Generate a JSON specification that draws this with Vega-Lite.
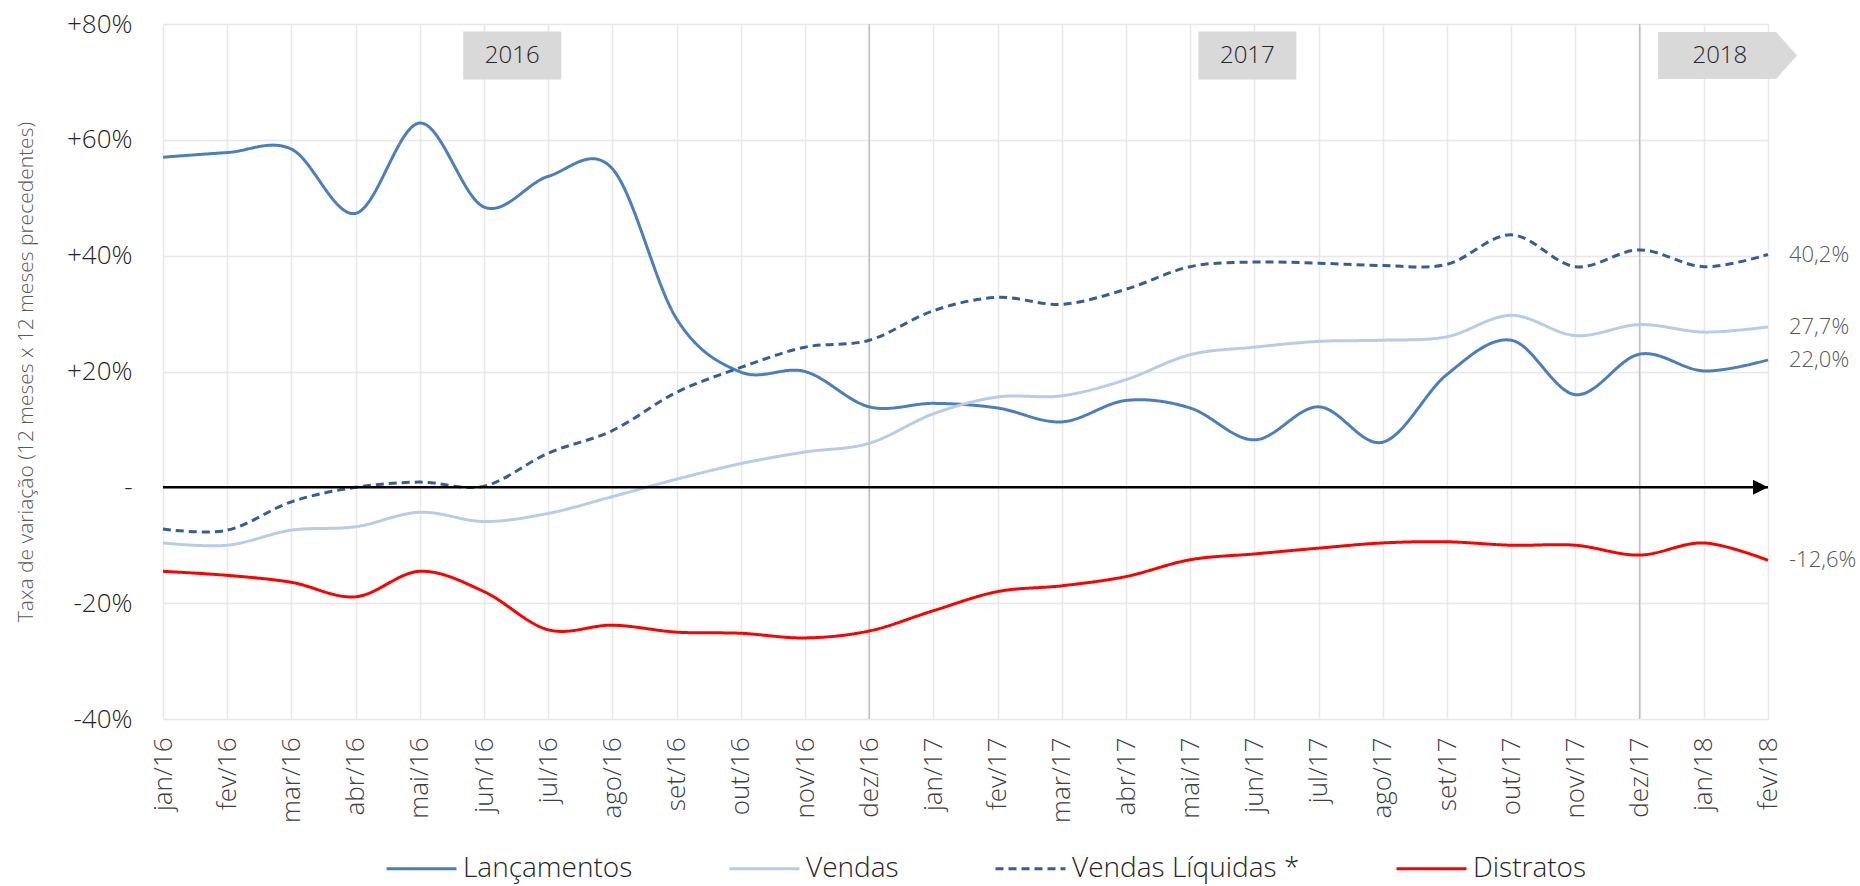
{
  "$schema": "https://vega.github.io/schema/vega-lite/v6.json",
  "width": 1605,
  "height": 695,
  "autosize": {"type": "none"},
  "padding": {"left": 163, "top": 24, "right": 92, "bottom": 167},
  "background": "white",
  "config": {"font": "Open Sans", "view": {"stroke": null}, "text": {"fontWeight": 300}},
  "datasets": {
    "mensal": [
      {"i": 0, "mes": "jan/16", "Lançamentos": 57.0, "Vendas": -9.6, "Vendas Líquidas *": -7.2, "Distratos": -14.5},
      {"i": 1, "mes": "fev/16", "Lançamentos": 57.8, "Vendas": -10.0, "Vendas Líquidas *": -7.4, "Distratos": -15.2},
      {"i": 2, "mes": "mar/16", "Lançamentos": 58.4, "Vendas": -7.4, "Vendas Líquidas *": -2.5, "Distratos": -16.4},
      {"i": 3, "mes": "abr/16", "Lançamentos": 47.3, "Vendas": -6.8, "Vendas Líquidas *": 0.0, "Distratos": -18.9},
      {"i": 4, "mes": "mai/16", "Lançamentos": 62.9, "Vendas": -4.3, "Vendas Líquidas *": 0.9, "Distratos": -14.5},
      {"i": 5, "mes": "jun/16", "Lançamentos": 48.4, "Vendas": -5.9, "Vendas Líquidas *": 0.2, "Distratos": -18.0},
      {"i": 6, "mes": "jul/16", "Lançamentos": 53.7, "Vendas": -4.5, "Vendas Líquidas *": 5.9, "Distratos": -24.6},
      {"i": 7, "mes": "ago/16", "Lançamentos": 55.0, "Vendas": -1.6, "Vendas Líquidas *": 9.8, "Distratos": -23.8},
      {"i": 8, "mes": "set/16", "Lançamentos": 29.1, "Vendas": 1.4, "Vendas Líquidas *": 16.4, "Distratos": -25.0},
      {"i": 9, "mes": "out/16", "Lançamentos": 19.9, "Vendas": 4.1, "Vendas Líquidas *": 20.7, "Distratos": -25.2},
      {"i": 10, "mes": "nov/16", "Lançamentos": 20.0, "Vendas": 6.1, "Vendas Líquidas *": 24.2, "Distratos": -26.0},
      {"i": 11, "mes": "dez/16", "Lançamentos": 13.9, "Vendas": 7.6, "Vendas Líquidas *": 25.4, "Distratos": -24.8},
      {"i": 12, "mes": "jan/17", "Lançamentos": 14.5, "Vendas": 12.7, "Vendas Líquidas *": 30.5, "Distratos": -21.3},
      {"i": 13, "mes": "fev/17", "Lançamentos": 13.7, "Vendas": 15.6, "Vendas Líquidas *": 32.8, "Distratos": -18.0},
      {"i": 14, "mes": "mar/17", "Lançamentos": 11.3, "Vendas": 15.8, "Vendas Líquidas *": 31.6, "Distratos": -17.0},
      {"i": 15, "mes": "abr/17", "Lançamentos": 15.0, "Vendas": 18.6, "Vendas Líquidas *": 34.2, "Distratos": -15.4},
      {"i": 16, "mes": "mai/17", "Lançamentos": 13.7, "Vendas": 22.9, "Vendas Líquidas *": 38.1, "Distratos": -12.5},
      {"i": 17, "mes": "jun/17", "Lançamentos": 8.2, "Vendas": 24.2, "Vendas Líquidas *": 38.9, "Distratos": -11.5},
      {"i": 18, "mes": "jul/17", "Lançamentos": 13.9, "Vendas": 25.2, "Vendas Líquidas *": 38.7, "Distratos": -10.5},
      {"i": 19, "mes": "ago/17", "Lançamentos": 7.8, "Vendas": 25.4, "Vendas Líquidas *": 38.3, "Distratos": -9.6},
      {"i": 20, "mes": "set/17", "Lançamentos": 19.5, "Vendas": 26.0, "Vendas Líquidas *": 38.5, "Distratos": -9.4},
      {"i": 21, "mes": "out/17", "Lançamentos": 25.4, "Vendas": 29.7, "Vendas Líquidas *": 43.6, "Distratos": -10.0},
      {"i": 22, "mes": "nov/17", "Lançamentos": 16.0, "Vendas": 26.2, "Vendas Líquidas *": 38.1, "Distratos": -10.0},
      {"i": 23, "mes": "dez/17", "Lançamentos": 23.0, "Vendas": 28.1, "Vendas Líquidas *": 41.0, "Distratos": -11.7},
      {"i": 24, "mes": "jan/18", "Lançamentos": 20.1, "Vendas": 26.8, "Vendas Líquidas *": 38.1, "Distratos": -9.6},
      {"i": 25, "mes": "fev/18", "Lançamentos": 22.0, "Vendas": 27.7, "Vendas Líquidas *": 40.2, "Distratos": -12.6}
    ]
  },
  "layer": [
    {
      "data": {"values": [{"i": 11}, {"i": 23}]},
      "mark": {"type": "rule", "color": "#bfbfbf", "strokeWidth": 1.5},
      "encoding": {
        "x": {"field": "i", "type": "quantitative", "scale": {"domain": [0, 25], "nice": false, "zero": false},
          "axis": {
            "values": [0,1,2,3,4,5,6,7,8,9,10,11,12,13,14,15,16,17,18,19,20,21,22,23,24,25],
            "grid": true, "gridColor": "#e8e8e8", "gridWidth": 1.5, "domain": false, "ticks": false,
            "labelAngle": -90, "labelFontSize": 26, "labelFontWeight": 300, "labelColor": "#404040", "labelPadding": 18,
            "labelExpr": "['jan/16','fev/16','mar/16','abr/16','mai/16','jun/16','jul/16','ago/16','set/16','out/16','nov/16','dez/16','jan/17','fev/17','mar/17','abr/17','mai/17','jun/17','jul/17','ago/17','set/17','out/17','nov/17','dez/17','jan/18','fev/18'][datum.value]",
            "title": null
          }
        }
      }
    },
    {
      "data": {"name": "mensal"},
      "transform": [{"fold": ["Lançamentos", "Vendas", "Vendas Líquidas *", "Distratos"], "as": ["serie", "valor"]}],
      "mark": {"type": "line", "interpolate": "cardinal", "strokeWidth": 3},
      "encoding": {
        "x": {"field": "i", "type": "quantitative"},
        "y": {"field": "valor", "type": "quantitative", "scale": {"domain": [-40, 80], "nice": false},
          "axis": {
            "values": [-40, -20, 0, 20, 40, 60, 80],
            "grid": true, "gridColor": "#e8e8e8", "gridWidth": 1.5, "domain": false, "ticks": false,
            "labelFontSize": 26, "labelFontWeight": 300, "labelColor": "#262626", "labelPadding": 31,
            "labelExpr": "datum.value > 0 ? '+' + datum.value + '%' : (datum.value == 0 ? '-' : datum.value + '%')",
            "title": "Taxa de variação (12 meses x 12 meses precedentes)",
            "titleFontSize": 21, "titleFontWeight": 300, "titleColor": "#595959", "titlePadding": 30
          }
        },
        "color": {"field": "serie", "type": "nominal",
          "scale": {"domain": ["Lançamentos", "Vendas", "Vendas Líquidas *", "Distratos"], "range": ["#4a7ebf", "#b7cce6", "#335e99", "#ff0000"]},
          "legend": {"title": null, "orient": "none", "legendX": 222, "legendY": 808, "direction": "horizontal",
            "symbolType": "stroke", "symbolSize": 4900, "symbolStrokeWidth": 3, "labelFontSize": 28, "labelFontWeight": 300, "labelColor": "#262626",
            "columnPadding": 90, "labelOffset": 5, "labelLimit": 400}
        },
        "strokeDash": {"field": "serie", "type": "nominal",
          "scale": {"domain": ["Lançamentos", "Vendas", "Vendas Líquidas *", "Distratos"], "range": [[1, 0], [1, 0], [8, 5], [1, 0]]},
          "legend": {"title": null, "orient": "none", "legendX": 222, "legendY": 808, "direction": "horizontal",
            "symbolType": "stroke", "symbolSize": 4900, "symbolStrokeWidth": 3, "labelFontSize": 28, "labelFontWeight": 300, "labelColor": "#262626",
            "columnPadding": 90, "labelOffset": 5, "labelLimit": 400}
        }
      }
    },
    {
      "data": {"values": [{"v": 0}]},
      "mark": {"type": "rule", "color": "black", "strokeWidth": 2.5},
      "encoding": {"y": {"field": "v", "type": "quantitative"}}
    },
    {
      "data": {"values": [{"i": 25, "v": 0}]},
      "mark": {"type": "point", "shape": "M-2,-1L0,0L-2,1Z", "size": 225, "filled": true, "color": "black", "opacity": 1},
      "encoding": {"x": {"field": "i", "type": "quantitative"}, "y": {"field": "v", "type": "quantitative"}}
    },
    {
      "data": {"name": "mensal"},
      "transform": [
        {"filter": "datum.i == 25"},
        {"fold": ["Lançamentos", "Vendas", "Vendas Líquidas *", "Distratos"], "as": ["serie", "valor"]},
        {"calculate": "replace(replace(format(datum.valor, '.1f'), '.', ','), '\u2212', '-') + '%'", "as": "rotulo"}
      ],
      "mark": {"type": "text", "align": "left", "dx": 21, "fontSize": 22, "fontWeight": 300, "color": "#595959"},
      "encoding": {
        "x": {"field": "i", "type": "quantitative"},
        "y": {"field": "valor", "type": "quantitative"},
        "text": {"field": "rotulo"}
      }
    },
    {
      "data": {"values": [{"ano": "2016", "i": 5.44}, {"ano": "2017", "i": 16.89}]},
      "encoding": {"x": {"field": "i", "type": "quantitative"}, "y": {"datum": 74.56, "type": "quantitative"}},
      "layer": [
        {"mark": {"type": "point", "shape": "M-1,-0.49L1,-0.49L1,0.49L-1,0.49Z", "size": 9604, "filled": true, "color": "#d9d9d9", "opacity": 1}},
        {"mark": {"type": "text", "fontSize": 24, "fontWeight": 300, "color": "#262626"}, "encoding": {"text": {"field": "ano"}}}
      ]
    },
    {
      "data": {"values": [{"ano": "2018", "i": 24.37}]},
      "mark": {"type": "point", "shape": "M-1,-0.338L0.698,-0.338L1,0L0.698,0.338L-1,0.338Z", "size": 19321, "filled": true, "color": "#d9d9d9", "opacity": 1},
      "encoding": {"x": {"field": "i", "type": "quantitative"}, "y": {"datum": 74.56, "type": "quantitative"}}
    },
    {
      "data": {"values": [{"ano": "2018", "i": 24.25}]},
      "mark": {"type": "text", "fontSize": 24, "fontWeight": 300, "color": "#262626"},
      "encoding": {"x": {"field": "i", "type": "quantitative"}, "y": {"datum": 74.56, "type": "quantitative"}, "text": {"field": "ano"}}
    }
  ]
}
